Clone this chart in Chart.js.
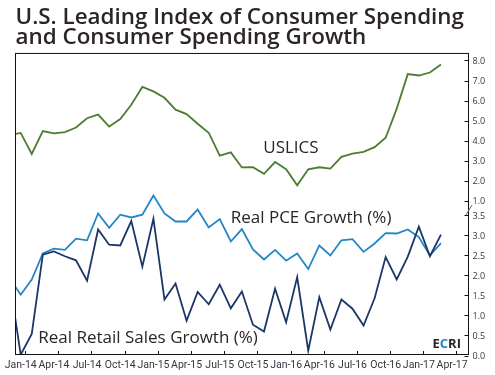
<!DOCTYPE html>
<html><head><meta charset="utf-8">
<script src="https://cdn.jsdelivr.net/npm/chart.js@4.4.1/dist/chart.umd.min.js"></script>
<style>html,body{margin:0;padding:0;background:#fff;}#wrap{width:495px;height:375px;}</style>
</head><body><div id="wrap"><canvas id="c" width="495" height="375"></canvas></div>
<script>
// ---- data ----
const months = ['Dec-13',
 'Jan-14','Feb-14','Mar-14','Apr-14','May-14','Jun-14','Jul-14','Aug-14','Sep-14','Oct-14','Nov-14','Dec-14',
 'Jan-15','Feb-15','Mar-15','Apr-15','May-15','Jun-15','Jul-15','Aug-15','Sep-15','Oct-15','Nov-15','Dec-15',
 'Jan-16','Feb-16','Mar-16','Apr-16','May-16','Jun-16','Jul-16','Aug-16','Sep-16','Oct-16','Nov-16','Dec-16',
 'Jan-17','Feb-17','Mar-17'];
const uslics = [4.27,
 4.39,3.34,4.48,4.37,4.43,4.66,5.12,5.30,4.71,5.08,5.79,6.68,
 6.46,6.14,5.55,5.33,4.85,4.40,3.26,3.42,2.67,2.68,2.35,2.94,
 2.58,1.78,2.58,2.68,2.61,3.20,3.36,3.45,3.68,4.15,5.60,7.32,
 7.25,7.40,7.80];
const pceGrowth = [1.93,
 1.52,1.90,2.55,2.67,2.64,2.92,2.88,3.55,3.19,3.52,3.45,3.52,
 4.00,3.55,3.35,3.35,3.65,3.20,3.41,2.85,3.16,2.65,2.40,2.64,
 2.37,2.55,2.16,2.75,2.50,2.88,2.91,2.59,2.80,3.06,3.05,3.15,
 2.96,2.50,2.81];
const retailGrowth = [1.86,
 0.02,0.54,2.52,2.60,2.48,2.38,1.87,3.15,2.77,2.75,3.36,2.22,
 3.42,1.40,1.80,0.87,1.59,1.28,1.77,1.18,1.60,0.77,0.60,1.67,
 0.83,1.96,0.12,1.46,0.65,1.40,1.17,0.75,1.43,2.46,1.90,2.47,
 3.22,2.48,3.02];
const xTickLabels = ['Jan-14','Apr-14','Jul-14','Oct-14','Jan-15','Apr-15','Jul-15','Oct-15','Jan-16','Apr-16','Jul-16','Oct-16','Jan-17','Apr-17'];
const upperTicks = [1,2,3,4,5,6,7,8];
const lowerTicks = [0,0.5,1,1.5,2,2.5,3,3.5];

// ---- styling / layout ----
const TXT = '#2b2523';
const GREEN = '#4b7d32', PCEBLUE = '#2286c9', NAVY = '#1b3768';
const pts = arr => months.map((m, k) => ({x: k - 1, y: arr[k]}));

const decor = {
  id: 'decor',
  afterDraw(chart) {
    const {ctx, chartArea: a, scales} = chart;
    ctx.save();
    ctx.strokeStyle = '#111';
    ctx.lineWidth = 1;
    ctx.strokeRect(a.left, a.top, a.right - a.left, a.bottom - a.top);
    ctx.beginPath();
    scales.x.ticks.forEach(t => {
      const px = Math.round(scales.x.getPixelForValue(t.value)) + 0.5;
      ctx.moveTo(px, a.bottom); ctx.lineTo(px, a.bottom - 3.5);
    });
    ['yTop', 'yBot'].forEach(id => {
      const s = scales[id];
      s.ticks.forEach(t => {
        const py = Math.round(s.getPixelForValue(t.value)) + 0.5;
        ctx.moveTo(a.right, py); ctx.lineTo(a.right - 4, py);
      });
    });
    ctx.stroke();
    const b = scales.yTop.bottom;
    ctx.strokeStyle = '#666';
    ctx.beginPath();
    ctx.moveTo(a.right - 2.5, b + 7); ctx.lineTo(a.right + 3.5, b - 3);
    ctx.stroke();
    const X = scales.x, U = scales.yTop, L = scales.yBot;
    ctx.fillStyle = TXT;
    ctx.textBaseline = 'alphabetic';
    ctx.textAlign = 'left';
    ctx.font = '500 17px "Open Sans"';
    ctx.fillText('USLICS', X.getPixelForValue(21.93), U.getPixelForValue(3.41));
    ctx.fillText('Real PCE Growth (%)', X.getPixelForValue(18.99), L.getPixelForValue(3.305));
    ctx.fillText('Real Retail Sales Growth (%)', X.getPixelForValue(1.59), L.getPixelForValue(0.305));
    ctx.font = 'bold 13px "Open Sans"';
    const parts = [['E', TXT], ['C', PCEBLUE], ['RI', TXT]];
    const total = parts.reduce((s, p) => s + ctx.measureText(p[0]).width, 0);
    let x = a.right - 7.5 - total;
    const y = a.bottom - 7;
    parts.forEach(([t, c]) => { ctx.fillStyle = c; ctx.fillText(t, x, y); x += ctx.measureText(t).width; });
    ctx.restore();
  }
};

const yTickFont = {family: '"Open Sans"', size: 9};
const lowClip = {left: 0, right: 0, bottom: 0, top: 40};
new Chart(document.getElementById('c'), {
  type: 'line',
  data: {
    datasets: [
      {label: 'Real Retail Sales Growth (%)', data: pts(retailGrowth), xAxisID: 'x', yAxisID: 'yBot', borderColor: NAVY, borderWidth: 1.8, pointRadius: 0, order: 0, clip: lowClip},
      {label: 'Real PCE Growth (%)', data: pts(pceGrowth), xAxisID: 'x', yAxisID: 'yBot', borderColor: PCEBLUE, borderWidth: 1.8, pointRadius: 0, order: 1, clip: lowClip},
      {label: 'USLICS', data: pts(uslics), xAxisID: 'x', yAxisID: 'yTop', borderColor: GREEN, borderWidth: 1.8, pointRadius: 0, order: 2, clip: {left: 0, right: 0, top: 0, bottom: 40}}
    ]
  },
  options: {
    responsive: false, animation: false, devicePixelRatio: 1,
    layout: {padding: {left: 15.5, right: 0, top: 0, bottom: 0}},
    plugins: {
      legend: {display: false}, tooltip: {enabled: false},
      title: {display: true, align: 'start', color: TXT,
        text: ['U.S. Leading Index of Consumer Spending', 'and Consumer Spending Growth'],
        font: {family: '"Open Sans"', size: 22.4, weight: '600', lineHeight: 0.923},
        padding: {top: 7.0, bottom: 5.1}}
    },
    scales: {
      x: {type: 'linear', position: 'bottom', min: -0.47, max: 40.49,
        afterBuildTicks: s => { s.ticks = xTickLabels.map((l, k) => ({value: k * 3 + 0.4})); },
        afterFit: s => { s.height = 20.5; },
        grid: {display: false, drawTicks: false}, border: {display: false},
        ticks: {autoSkip: false, maxRotation: 0, minRotation: 0, labelOffset: -4.4, padding: 5,
          color: '#3b3340', font: {family: '"Liberation Sans Narrow", "Arial Narrow", "Roboto"', size: 10.5},
          callback: (v, i) => xTickLabels[i]}},
      yTop: {type: 'linear', position: 'right', stack: 'right', stackWeight: 154.5, min: 0.651, max: 8.349,
        afterBuildTicks: s => { s.ticks = upperTicks.map(v => ({value: v})); },
        afterFit: s => { s.width = 26.5; },
        grid: {display: false, drawTicks: false}, border: {display: false},
        ticks: {autoSkip: false, padding: 4, labelOffset: 0.5, color: '#3b3340', font: yTickFont, callback: v => Number(v).toFixed(1)}},
      yBot: {type: 'linear', position: 'right', stack: 'right', stackWeight: 146.5, min: 0.025, max: 3.6875,
        afterBuildTicks: s => { s.ticks = lowerTicks.map(v => ({value: v})); },
        afterFit: s => { s.width = 26.5; },
        grid: {display: false, drawTicks: false}, border: {display: false},
        ticks: {autoSkip: false, padding: 4, labelOffset: 1, color: '#3b3340', font: yTickFont, callback: v => Number(v).toFixed(1)}}
    }
  },
  plugins: [decor]
});
</script></body></html>
